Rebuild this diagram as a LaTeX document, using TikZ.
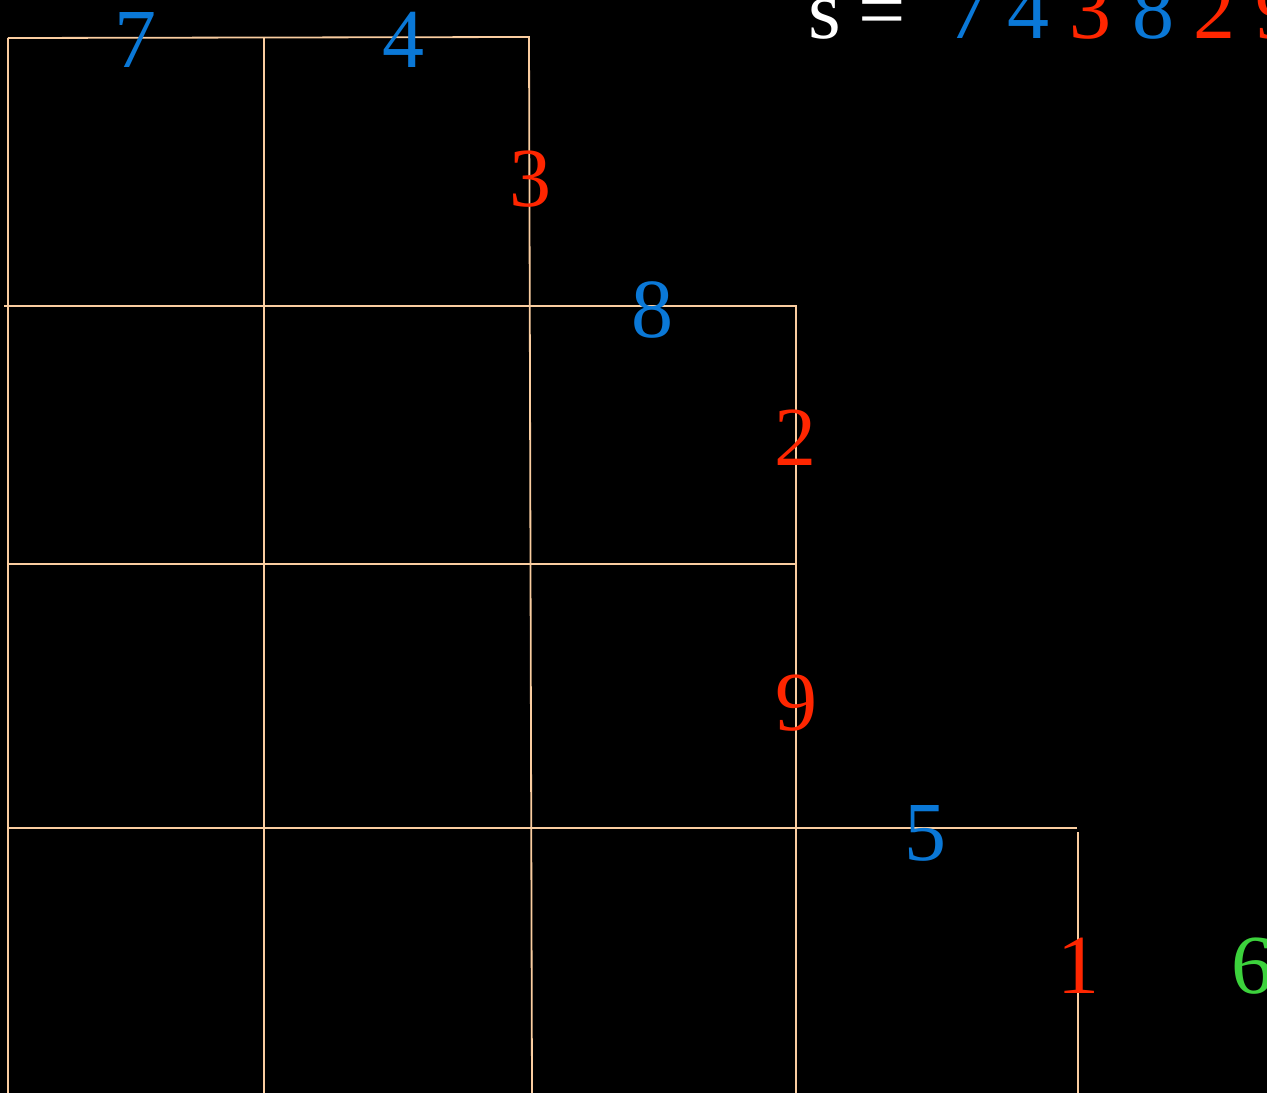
\documentclass[tikz,border=0pt]{standalone}
\usepackage{fontspec}
\setmainfont{Liberation Serif}
\definecolor{gridc}{RGB}{250,205,160}
\definecolor{bluec}{RGB}{10,120,215}
\definecolor{redc}{RGB}{255,38,0}
\definecolor{greenc}{RGB}{60,210,60}
\begin{document}
\begin{tikzpicture}[x=1pt,y=-1pt,
  gl/.style={draw=gridc,line width=1.8pt},
  dg/.style={inner sep=0pt,anchor=base,font=\fontsize{84}{84}\selectfont},
  bl/.style={dg,text=bluec},
  rd/.style={dg,text=redc},
  gr/.style={dg,text=greenc},
  wh/.style={dg,text=white}]
\fill[black] (0,0) rectangle (1267,1093);
\useasboundingbox (0,0) rectangle (1267,1093);
\clip (0,0) rectangle (1267,1093);
% grid coordinates
\coordinate (t0) at (8,38);
\coordinate (t1) at (529,37);
\coordinate (v0b) at (8,1093);
\coordinate (v1t) at (264,38);
\coordinate (v1b) at (264,1093);
\coordinate (v2b) at (532,1093);
\coordinate (h1a) at (4,306);
\coordinate (h1b) at (796,306);
\coordinate (v3b) at (796,1093);
\coordinate (h2a) at (8,564);
\coordinate (h2b) at (796,564);
\coordinate (h3a) at (8,828);
\coordinate (h3b) at (1077,828);
\coordinate (v4t) at (1078,832);
\coordinate (v4b) at (1078,1093);
\draw[gl] (t0) -- (t1) -- (v2b);
\draw[gl] (t0) -- (v0b);
\draw[gl] (v1t) -- (v1b);
\draw[gl] (h1a) -- (h1b) -- (v3b);
\draw[gl] (h2a) -- (h2b);
\draw[gl] (h3a) -- (h3b);
\draw[gl] (v4t) -- (v4b);
% labels on grid
\node[bl] (n7) at (135,67) {7};
\node[bl] (n4) at (403,67) {4};
\node[rd] (n3) at (530,206) {3};
\node[bl] (n8) at (652,337) {8};
\node[rd] (n2) at (795,465) {2};
\node[rd] (n9) at (796,730) {9};
\node[bl] (n5) at (925,860) {5};
\node[rd] (n1) at (1078,993) {1};
\node[gr] (n6) at (1252,993) {6};
% sequence at top
\node[wh,anchor=base west] (ss) at (808,38) {s};
\node[wh,anchor=base west] (eq) at (858,38) {=};
\node[bl] (s7) at (968,38) {7};
\node[bl] (s4) at (1028,38) {4};
\node[rd] (s3) at (1090,38) {3};
\node[bl] (s8) at (1153,38) {8};
\node[rd] (s2) at (1214,38) {2};
\node[rd] (s9) at (1276,38) {9};
\end{tikzpicture}
\end{document}
